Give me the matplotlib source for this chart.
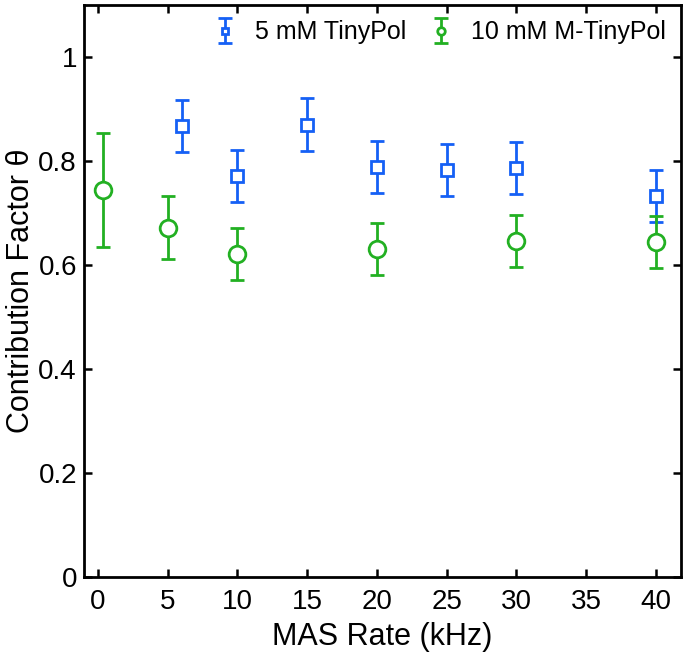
import matplotlib
matplotlib.use("Agg")
import matplotlib.pyplot as plt

plt.rcParams['font.family'] = ['Liberation Sans', 'DejaVu Sans']

# 5 mM TinyPol
blue_x = [6, 10, 15, 20, 25, 30, 40]
blue_y = [0.867, 0.772, 0.870, 0.789, 0.783, 0.787, 0.732]
blue_err = [0.050, 0.050, 0.051, 0.050, 0.050, 0.050, 0.050]

# 10 mM M-TinyPol
green_x = [0.4, 5, 10, 20, 30, 40]
green_y = [0.745, 0.672, 0.622, 0.631, 0.647, 0.644]
green_err = [0.110, 0.060, 0.050, 0.050, 0.050, 0.050]

xticks = [0, 5, 10, 15, 20, 25, 30, 35, 40]
yticks = [0, 0.2, 0.4, 0.6, 0.8, 1]
ytick_labels = ['0', '0.2', '0.4', '0.6', '0.8', '1']

blue = '#1560F5'
green = '#22B022'

fig = plt.figure(figsize=(6.88, 6.59), dpi=100)
ax = fig.add_axes([0.122, 0.125, 0.868, 0.867])

ax.errorbar(blue_x, blue_y, yerr=blue_err, fmt='s', color=blue, mfc='white',
            mec=blue, ms=9, mew=2, elinewidth=2, capsize=5, capthick=2,
            label='5 mM TinyPol', zorder=3)
ax.errorbar(green_x, green_y, yerr=green_err, fmt='o', color=green, mfc='white',
            mec=green, ms=12, mew=2, elinewidth=2, capsize=5, capthick=2,
            label='10 mM M-TinyPol', zorder=3)

ax.set_xlim(-1, 41.8)
ax.set_ylim(0, 1.1)
ax.set_xticks(xticks)
ax.set_xticklabels([str(t) for t in xticks])
ax.set_yticks(yticks)
ax.set_yticklabels(ytick_labels)

ax.tick_params(direction='in', top=True, right=True, length=6, width=1.8,
               labelsize=20)
ax.tick_params(axis='x', pad=9)
ax.tick_params(axis='y', pad=5)
for s in ax.spines.values():
    s.set_linewidth(2)

ax.set_xlabel('MAS Rate (kHz)', fontsize=22, labelpad=5)
ax.set_ylabel('Contribution Factor θ', fontsize=22, labelpad=2)

leg = ax.legend(loc='upper right', ncol=2, frameon=False, fontsize=18,
                handlelength=0.8, handletextpad=0.8, columnspacing=1.0,
                borderaxespad=0.2, markerscale=0.45)

fig.savefig('out.png', dpi=100)
